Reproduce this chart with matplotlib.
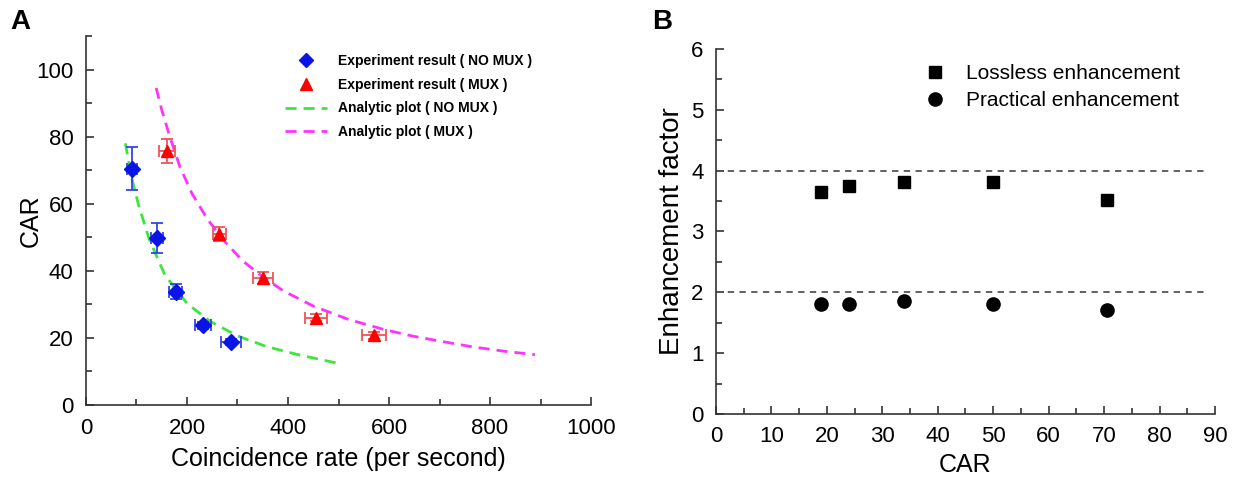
import matplotlib
matplotlib.use("Agg")
import matplotlib.pyplot as plt
from matplotlib.lines import Line2D
from matplotlib.ticker import MultipleLocator

plt.rcParams['font.family'] = ['Liberation Sans', 'DejaVu Sans']

# panel A: measured CAR vs coincidence rate
nomux_rate = [91, 140, 178, 232, 287]
nomux_car = [70.5, 49.8, 33.8, 23.8, 18.8]
nomux_xerr = [10, 12, 13, 16, 19]
nomux_yerr = [6.3, 4.5, 2.2, 1.0, 1.0]

mux_rate = [161, 264, 351, 455, 571]
mux_car = [75.6, 51.0, 37.8, 26.0, 20.8]
mux_xerr = [16, 13, 20, 22, 24]
mux_yerr = [3.6, 2.2, 1.7, 1.0, 1.0]

# analytic curves
nomux_fit_x = [78, 90, 104, 125, 156, 200, 245, 300, 358, 420, 463, 497]
nomux_fit_y = [78, 68, 59.7, 49.5, 38.8, 30.3, 25.0, 20.6, 17.4, 15.0, 13.6, 12.5]
mux_fit_x = [139, 150, 166, 186, 210, 240, 270, 310, 350, 391, 450, 520,
             590, 648, 710, 767, 830, 889]
mux_fit_y = [94.5, 88, 80, 71, 63, 55.5, 49.5, 43, 38.2, 34, 29.5, 25.5,
             22.5, 20.5, 18.8, 17.3, 16.0, 15.0]

# panel B: enhancement factors
car_vals = [19.0, 24.0, 34.0, 50.0, 70.5]
lossless = [3.65, 3.75, 3.81, 3.82, 3.51]
practical = [1.80, 1.80, 1.86, 1.80, 1.71]
ref_levels = [4, 2]

fig = plt.figure(figsize=(12.37, 4.78), dpi=100)
axA = fig.add_axes([0.0695, 0.1527, 0.4083, 0.772])
axB = fig.add_axes([0.5788, 0.1339, 0.4034, 0.7636])

for ax in (axA, axB):
    ax.spines['top'].set_visible(False)
    ax.spines['right'].set_visible(False)
    for s in ('left', 'bottom'):
        ax.spines[s].set_color('#333333')
        ax.spines[s].set_linewidth(1.2)
    ax.tick_params(which='both', direction='in', color='#333333', width=1.2)
    ax.tick_params(which='major', length=6, pad=9)
    ax.tick_params(which='minor', length=4)

# --- A ---
axA.plot(nomux_fit_x, nomux_fit_y, ls=(0, (4, 2.5)), color='#3de63d', lw=2)
axA.plot(mux_fit_x, mux_fit_y, ls=(0, (4, 2.5)), color='#ff33ff', lw=2)
axA.errorbar(nomux_rate, nomux_car, xerr=nomux_xerr, yerr=nomux_yerr, fmt='D',
             color='#0a14e6', ecolor='#3344ee', ms=8, capsize=4, elinewidth=1.3,
             capthick=1.3)
axA.errorbar(mux_rate, mux_car, xerr=mux_xerr, yerr=mux_yerr, fmt='^',
             color='#ff0000', ecolor='#ee5555', ms=9, capsize=4, elinewidth=1.3,
             capthick=1.3)
axA.set_xlim(0, 1000)
axA.set_ylim(0, 110)
axA.xaxis.set_major_locator(MultipleLocator(200))
axA.xaxis.set_minor_locator(MultipleLocator(100))
axA.yaxis.set_major_locator(MultipleLocator(20))
axA.yaxis.set_minor_locator(MultipleLocator(10))
axA.tick_params(labelsize=16)
axA.set_xlabel('Coincidence rate (per second)', fontsize=18, labelpad=6)
axA.set_ylabel('CAR', fontsize=18)
axA.yaxis.set_label_coords(-0.085, 0.5)

hA = [Line2D([], [], ls='none', marker='D', color='#0a14e6', ms=7),
      Line2D([], [], ls='none', marker='^', color='#ff0000', ms=8),
      Line2D([], [], ls=(0, (4, 2.5)), color='#3de63d', lw=2),
      Line2D([], [], ls=(0, (4, 2.5)), color='#ff33ff', lw=2)]
lA = ['Experiment result ( NO MUX )', 'Experiment result ( MUX )',
      'Analytic plot ( NO MUX )', 'Analytic plot ( MUX )']
axA.legend(hA, lA, loc='upper left', bbox_to_anchor=(0.37, 0.985), frameon=False,
           prop={'size': 10, 'weight': 'bold'}, handlelength=3.0,
           handletextpad=0.8, labelspacing=0.7)

# --- B ---
for lev in ref_levels:
    axB.plot([0, 88], [lev, lev], ls=(0, (3.5, 3)), color='#555555', lw=1.3)
axB.plot(car_vals, lossless, 's', color='black', ms=9, label='Lossless enhancement')
axB.plot(car_vals, practical, 'o', color='black', ms=9.5, label='Practical enhancement')
axB.set_xlim(0, 90)
axB.set_ylim(0, 6)
axB.xaxis.set_major_locator(MultipleLocator(10))
axB.xaxis.set_minor_locator(MultipleLocator(5))
axB.yaxis.set_major_locator(MultipleLocator(1))
axB.yaxis.set_minor_locator(MultipleLocator(0.5))
axB.tick_params(labelsize=16)
axB.set_xlabel('CAR', fontsize=18, labelpad=4)
axB.set_ylabel('Enhancement factor', fontsize=20)
axB.legend(loc='upper left', bbox_to_anchor=(0.38, 1.01), frameon=False,
           fontsize=15, handlelength=1.0, handletextpad=1.0, labelspacing=0.4)

fig.text(0.008, 0.955, 'A', fontsize=20, fontweight='bold', va='center')
fig.text(0.527, 0.955, 'B', fontsize=20, fontweight='bold', va='center')

fig.savefig('out.png', dpi=100)
